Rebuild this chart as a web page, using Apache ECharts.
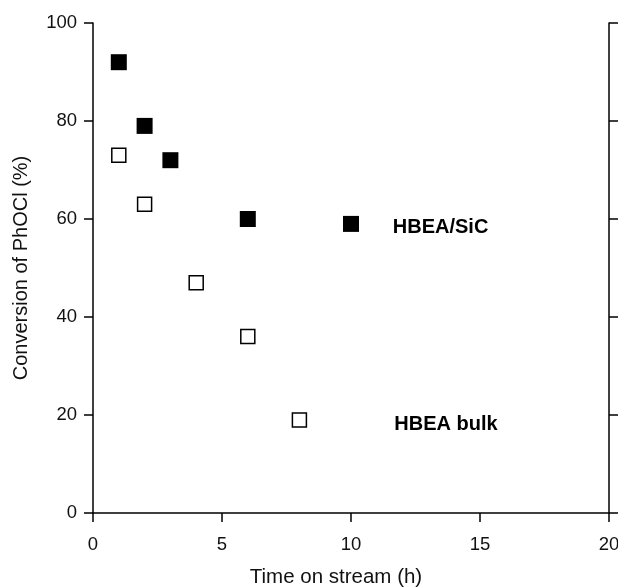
<!DOCTYPE html>
<html>
<head>
<meta charset="utf-8">
<script src="https://cdn.jsdelivr.net/npm/echarts@6/dist/echarts.min.js"></script>
<style>
  html, body { margin: 0; padding: 0; background: #fff; }
  #main { width: 618px; height: 588px; }
</style>
</head>
<body>
<div id="main"></div>
<script>
// data
var sicTime = [1, 2, 3, 6, 10];
var sicConv = [92, 79, 72, 60, 59];
var bulkTime = [1, 2, 4, 6, 8];
var bulkConv = [73, 63, 47, 36, 19];
var xTicks = [0, 5, 10, 15, 20];
var yTicks = [0, 20, 40, 60, 80, 100];
// annotation text, anchored in data units
var noteText = ['HBEA/SiC', 'HBEA bulk'];
var noteX = [11.62, 11.68];
var noteY = [58.2, 18];

var font = 'Liberation Sans, Arial, Helvetica, sans-serif';

function pairs(xs, ys) {
  return xs.map(function (x, i) { return [x, ys[i]]; });
}

var chartDom = document.getElementById('main');
var myChart = echarts.init(chartDom);

var axisLine = { show: true, lineStyle: { color: '#000', width: 1.5 } };
var axisTick = { show: true, length: 9, lineStyle: { color: '#000', width: 1.5 } };

var option = {
  animation: false,
  grid: { left: 93, right: 9, top: 23, bottom: 75, containLabel: false, outerBoundsMode: 'none' },
  xAxis: {
    type: 'value',
    min: xTicks[0],
    max: xTicks[xTicks.length - 1],
    interval: xTicks[1] - xTicks[0],
    name: 'Time on stream (h)',
    nameLocation: 'middle',
    nameGap: 54,
    nameTextStyle: { fontFamily: font, fontSize: 20.5, color: '#111', padding: [0, 30, 0, 0] },
    axisLine: axisLine,
    axisTick: axisTick,
    splitLine: { show: false },
    axisLabel: { fontFamily: font, fontSize: 18.5, color: '#111', margin: 22 }
  },
  yAxis: [{
    type: 'value',
    min: yTicks[0],
    max: yTicks[yTicks.length - 1],
    interval: yTicks[1] - yTicks[0],
    name: 'Conversion of PhOCl (%)',
    nameLocation: 'middle',
    nameGap: 62,
    nameTextStyle: { fontFamily: font, fontSize: 20, color: '#111' },
    axisLine: axisLine,
    axisTick: axisTick,
    splitLine: { show: false },
    axisLabel: { fontFamily: font, fontSize: 18.5, color: '#111', margin: 16 }
  }, {
    type: 'value',
    position: 'right',
    min: yTicks[0],
    max: yTicks[yTicks.length - 1],
    interval: yTicks[1] - yTicks[0],
    axisLine: axisLine,
    axisTick: axisTick,
    splitLine: { show: false },
    axisLabel: { show: false }
  }],
  series: [
    {
      name: 'HBEA/SiC',
      type: 'scatter',
      symbol: 'rect',
      symbolSize: 16,
      itemStyle: { color: '#000', opacity: 1 },
      data: pairs(sicTime, sicConv)
    },
    {
      name: 'HBEA bulk',
      type: 'scatter',
      symbol: 'rect',
      symbolSize: 14,
      itemStyle: { color: '#fff', borderColor: '#000', borderWidth: 1.5, opacity: 1 },
      data: pairs(bulkTime, bulkConv)
    },
    {
      name: 'notes',
      type: 'scatter',
      symbolSize: 0,
      silent: true,
      itemStyle: { opacity: 1 },
      label: {
        show: true,
        position: 'right',
        distance: 0,
        formatter: function (p) { return noteText[p.dataIndex]; },
        fontFamily: font,
        fontSize: 20,
        fontWeight: 'bold',
        color: '#000'
      },
      data: pairs(noteX, noteY)
    }
  ]
};

myChart.setOption(option);
</script>
</body>
</html>
